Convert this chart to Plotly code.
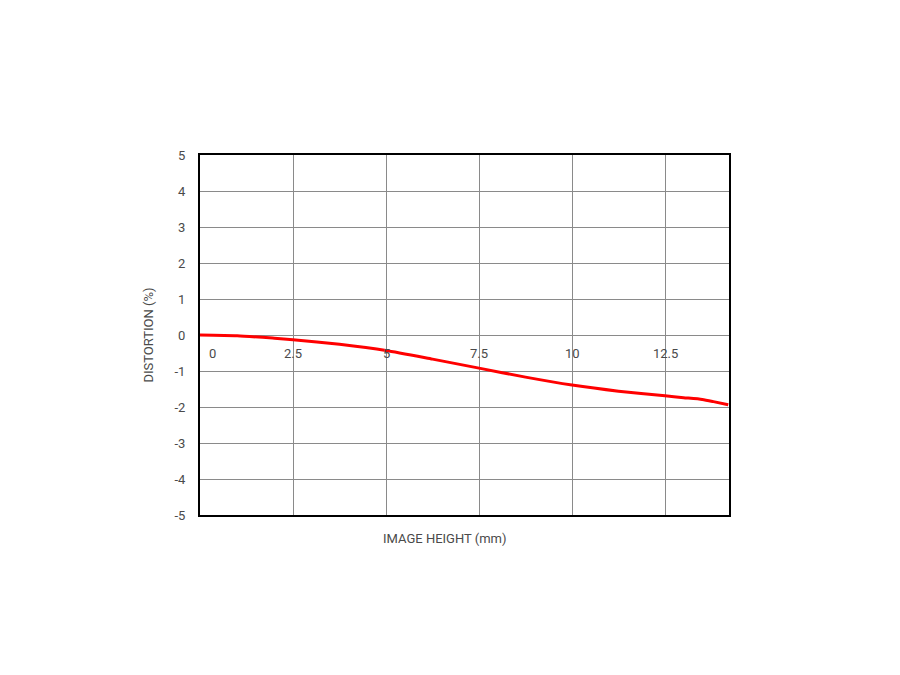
import plotly.graph_objects as go

image_height = [0, 1.0, 2.0, 2.5, 3.75, 5.0, 6.25, 7.5, 8.75, 10.0, 11.25, 12.5, 13.0, 13.5, 13.8, 14.2]
distortion = [0, -0.02, -0.09, -0.13, -0.26, -0.43, -0.67, -0.92, -1.17, -1.39, -1.56, -1.69, -1.74, -1.79, -1.85, -1.94]

x_ticks = [2.5, 5, 7.5, 10, 12.5]
x_tick_labels = ["0", "2.5", "5", "7.5", "10", "12.5"]
x_label_pos = [0.33, 2.5, 5, 7.5, 10, 12.5]
y_ticks = [-5, -4, -3, -2, -1, 0, 1, 2, 3, 4, 5]

FONT = "Roboto"
TXT = "#4a4a4a"

fig = go.Figure()
fig.add_trace(go.Scatter(x=image_height, y=distortion, mode="lines",
                         line=dict(color="#ff0000", width=3, shape="spline", smoothing=0.6),
                         showlegend=False, hoverinfo="skip"))

for lab, pos in zip(x_tick_labels, x_label_pos):
    fig.add_annotation(x=pos, y=-0.5, text=lab, showarrow=False, xref="x", yref="y",
                       font=dict(family=FONT, size=13, color=TXT))

fig.add_annotation(x=(445 - 200) / 529, y=-(538 - 515) / 360, xref="paper", yref="paper",
                   text="IMAGE HEIGHT (mm)", showarrow=False, yanchor="middle",
                   font=dict(family=FONT, size=13, color=TXT))

fig.update_layout(
    width=900, height=675,
    margin=dict(l=192, r=179, t=147, b=168),
    paper_bgcolor="white", plot_bgcolor="white",
    xaxis=dict(range=[0, 14.22], tickvals=x_ticks, showticklabels=False,
               showgrid=True, gridcolor="#8a8a8a", gridwidth=1, zeroline=False,
               showline=True, linecolor="black", linewidth=2, mirror=True, fixedrange=True),
    yaxis=dict(range=[-5, 5], tickvals=y_ticks, ticktext=[str(v) for v in y_ticks],
               showgrid=True, gridcolor="#8a8a8a", gridwidth=1, zeroline=False,
               showline=True, linecolor="black", linewidth=2, mirror=True,
               tickfont=dict(family=FONT, size=13, color=TXT), ticks="", ticklabelstandoff=10,
               title=dict(text="DISTORTION (%)", font=dict(family=FONT, size=13, color=TXT), standoff=18),
               fixedrange=True),
)

fig.write_html("out.html")
